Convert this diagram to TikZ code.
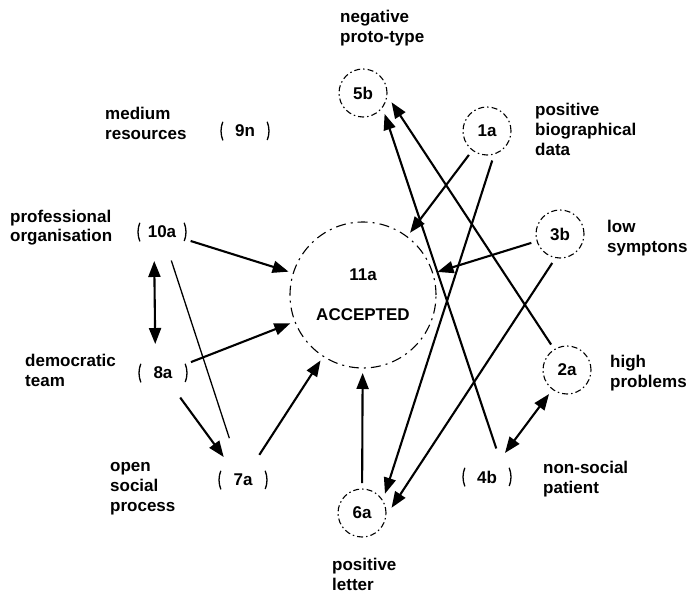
\documentclass[tikz,border=0pt]{standalone}
\usepackage{fontspec}
\setmainfont{Liberation Sans}
\usetikzlibrary{arrows.meta}

\begin{document}
\begin{tikzpicture}[
  x=1pt, y=-1pt,
  >={Triangle[length=16pt,width=12pt]},
  every node/.style={font=\bfseries\fontsize{17}{20}\selectfont}
]
\tikzset{
  ring/.style  ={circle, draw=black, line width=1.1pt, minimum size=48pt,
                 inner sep=0pt, outer sep=6pt,
                 dash pattern=on 6pt off 3pt on 1.5pt off 3pt},
  faint/.style ={circle, draw=black, line width=1.3pt, minimum size=48pt,
                 inner sep=0pt, outer sep=6pt,
                 dash pattern=on 19pt off 56.4pt, dash phase=9.5pt},
  big/.style   ={ring, minimum size=146pt, outer sep=5pt, align=center,
                 dash pattern=on 10pt off 5pt on 2pt off 5pt},
  txt/.style   ={align=left, inner sep=0pt, anchor=base west},
  arr/.style   ={->, line width=2.1pt},
  darr/.style  ={<->, line width=2.1pt},
  plain/.style ={line width=1.3pt}
}

\useasboundingbox (0,0) rectangle (688,596);

%% ----- states -----
\node[ring]  (proto)  at (363,93)  {5b};
\node[ring]  (bio)    at (487,131) {1a};
\node[faint] (res)    at (245,131) {9n};
\node[faint] (org)    at (162,232) {10a};
\node[ring]  (symp)   at (560,234) {3b};
\node[big]   (acc)    at (363,295) {11a\\[20pt]ACCEPTED};
\node[faint] (team)   at (163,373) {8a};
\node[ring]  (prob)   at (567,370) {2a};
\node[faint] (proc)   at (243,480) {7a};
\node[faint] (pat)    at (487,477) {4b};
\node[ring]  (letter) at (362,513) {6a};

%% ----- captions (base = last line) -----
\node[txt] (proto-t)  at (340,43)  {negative\\proto-type};
\node[txt] (res-t)    at (105,140) {medium\\resources};
\node[txt] (bio-t)    at (535,156) {positive\\biographical\\data};
\node[txt] (org-t)    at (10,242)  {professional\\organisation};
\node[txt] (symp-t)   at (607,252) {low\\symptons};
\node[txt] (team-t)   at (25,386)  {democratic\\team};
\node[txt] (prob-t)   at (610,387) {high\\problems};
\node[txt] (proc-t)   at (110,511) {open\\social\\process};
\node[txt] (pat-t)    at (543,493) {non-social\\patient};
\node[txt] (letter-t) at (332,590) {positive\\letter};

%% ----- left side -----
\draw[arr]  (org) -- (acc);
\draw[darr] (org.255) -- (team.105);
\draw[plain, shorten >=14pt] (org) -- (proc);
\draw[arr]  (team) -- (acc);
\draw[arr]  (team.-55) -- (proc.130);
\draw[arr]  (proc) -- (acc);
\draw[arr]  (letter) -- (acc);

%% ----- right side (crossing lines) -----
\draw[arr]  (bio) -- (acc);
\draw[arr]  (bio.-80) -- (letter.40);
\draw[arr]  (symp) -- (acc);
\draw[arr]  (symp.255) -- (letter.10);
\draw[arr]  (prob.122) -- (proto.-18);
\draw[arr]  (pat.72) -- (proto.-44);
\draw[darr] (prob) -- (pat);

\end{tikzpicture}
\end{document}
